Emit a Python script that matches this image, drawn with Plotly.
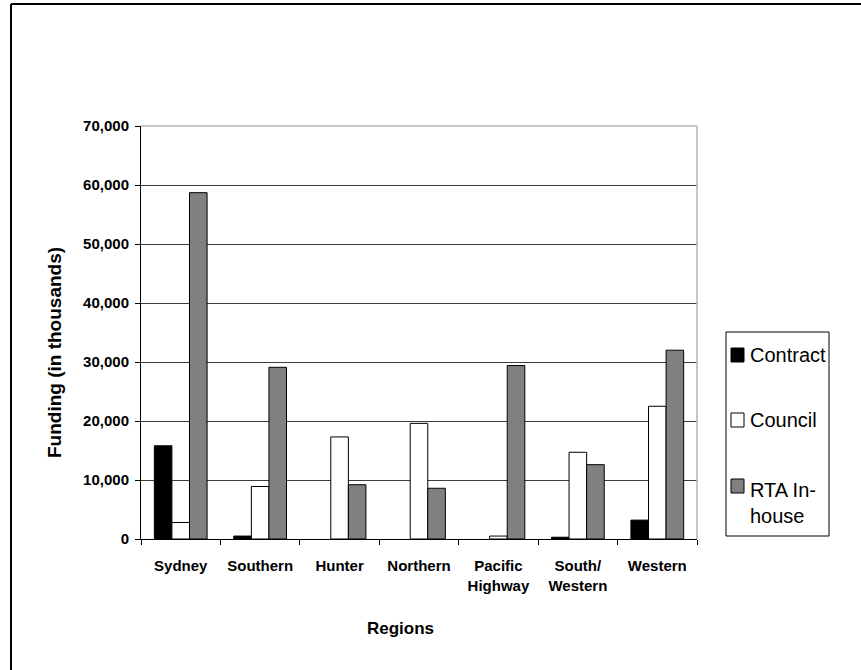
import plotly.graph_objects as go

regions = ["Sydney", "Southern", "Hunter", "Northern", "Pacific<br>Highway", "South/<br>Western", "Western"]
series_names = ["Contract", "Council", "RTA In-<br>house"]
contract = [15800, 500, 0, 0, 0, 300, 3200]
council = [2800, 8900, 17300, 19600, 500, 14700, 22500]
rta_inhouse = [58700, 29100, 9200, 8600, 29400, 12600, 32000]
series_colors = ["#000000", "#ffffff", "#808080"]
y_ticks = [0, 10000, 20000, 30000, 40000, 50000, 60000, 70000]

W, H = 861, 670
L, R, T, B = 141, 164, 126, 131
PW, PH = W - L - R, H - T - B

def px(x):
    return (x - L) / PW

def py(y):
    return (H - B - y) / PH

FONT = "Liberation Sans, Arial, sans-serif"

fig = go.Figure()
for name, vals, col in zip(series_names, [contract, council, rta_inhouse], series_colors):
    fig.add_trace(go.Bar(
        x=regions, y=vals, name=name.replace("<br>", ""),
        marker=dict(color=col, line=dict(color="#000000", width=[1 if v > 0 else 0 for v in vals])),
        showlegend=False,
    ))

shapes = []
# outer frame (top and left visible)
shapes.append(dict(type="line", xref="paper", yref="paper", x0=px(11), x1=px(W + 5), y0=py(4), y1=py(4),
                   line=dict(color="#000000", width=2)))
shapes.append(dict(type="line", xref="paper", yref="paper", x0=px(11), x1=px(11), y0=py(4), y1=py(H + 5),
                   line=dict(color="#000000", width=2)))
# plot area top and right edges (grey)
shapes.append(dict(type="line", xref="paper", yref="paper", x0=0, x1=1, y0=1, y1=1,
                   line=dict(color="#b4b4b4", width=1.5)))
shapes.append(dict(type="line", xref="paper", yref="paper", x0=1, x1=1, y0=0, y1=1,
                   line=dict(color="#b4b4b4", width=1.5)))
# legend box
shapes.append(dict(type="rect", xref="paper", yref="paper", x0=px(726), x1=px(829), y0=py(536), y1=py(332),
                   line=dict(color="#000000", width=1), fillcolor="rgba(0,0,0,0)"))

annotations = []
item_tops = [348, 413, 479]
text_centers = [355, 420, 503]
for i, (name, col) in enumerate(zip(series_names, series_colors)):
    shapes.append(dict(type="rect", xref="paper", yref="paper", x0=px(731), x1=px(744),
                       y0=py(item_tops[i] + 14), y1=py(item_tops[i]),
                       line=dict(color="#000000", width=1), fillcolor=col))
    annotations.append(dict(text=name, xref="paper", yref="paper", x=px(748), y=py(text_centers[i]),
                            xanchor="left", yanchor="middle", align="left", showarrow=False,
                            font=dict(family=FONT, size=20, color="#000000")))

# axis titles
annotations.append(dict(text="<b>Funding (in thousands)</b>", xref="paper", yref="paper",
                        x=px(54), y=py(353), textangle=-90, showarrow=False,
                        xanchor="center", yanchor="middle",
                        font=dict(family=FONT, size=19, color="#000000")))
annotations.append(dict(text="<b>Regions</b>", xref="paper", yref="paper",
                        x=px(400), y=py(628), showarrow=False,
                        xanchor="center", yanchor="middle",
                        font=dict(family=FONT, size=17, color="#000000")))

fig.update_layout(
    width=W, height=H,
    margin=dict(l=L, r=R, t=T, b=B, autoexpand=False),
    paper_bgcolor="#ffffff", plot_bgcolor="#ffffff",
    barmode="group", bargap=0.336, bargroupgap=0,
    shapes=shapes, annotations=annotations,
    showlegend=False,
    xaxis=dict(
        type="category", showline=True, linecolor="#000000", linewidth=1,
        ticks="outside", tickson="boundaries", ticklen=5, tickcolor="#000000",
        showgrid=False, zeroline=False, tickangle=0, ticklabelstandoff=13,
        tickfont=dict(family=FONT, size=15, color="#000000", weight="bold"),
    ),
    yaxis=dict(
        range=[0, 70000], tickvals=y_ticks, tickformat=",",
        showline=True, linecolor="#000000", linewidth=1,
        ticks="outside", ticklen=5, tickcolor="#000000", ticklabelstandoff=3,
        showgrid=True, gridcolor="#3c3c3c", gridwidth=1,
        zeroline=True, zerolinecolor="#000000", zerolinewidth=1,
        tickfont=dict(family=FONT, size=15, color="#000000", weight="bold"),
    ),
)

fig.write_html("out.html", config={"displayModeBar": False},
               post_script="document.body.style.margin='0';document.body.style.overflow='hidden';")
